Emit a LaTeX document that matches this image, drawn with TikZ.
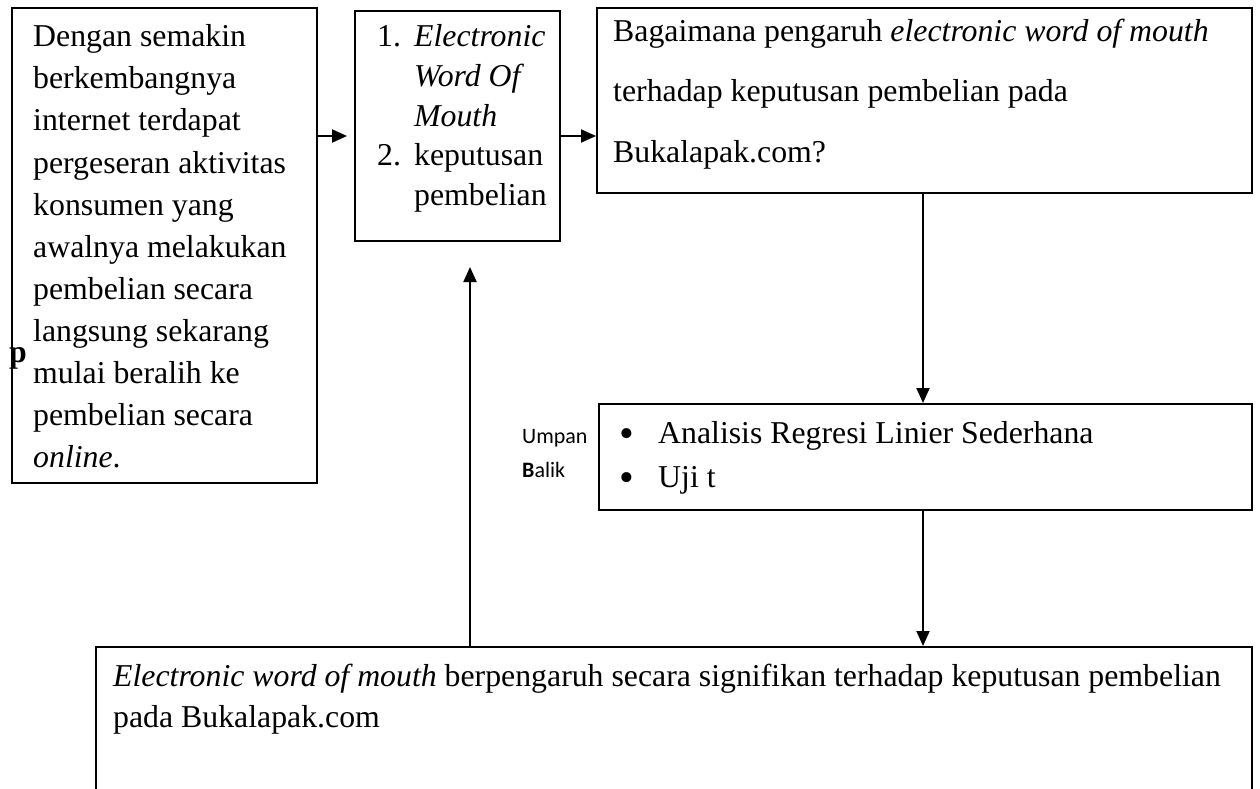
\documentclass[tikz,border=0pt]{standalone}
\usepackage{fontspec}
\setmainfont{Liberation Serif}
\newfontfamily\calib{Carlito}
\usetikzlibrary{arrows.meta}
\tikzset{
  box/.style={draw, line width=2pt, inner sep=0pt, anchor=north west},
  txt/.style={inner sep=0pt, anchor=base west, font=\fontsize{31.8}{38}\selectfont},
  bul/.style={inner sep=0pt, anchor=base west, font=\fontsize{42}{42}\selectfont},
  lbl/.style={inner sep=0pt, anchor=base west, font=\calib\fontsize{22}{26}\selectfont},
  arr/.style={line width=2pt, -{Triangle[length=15pt,width=13pt]}}
}
\begin{document}
\begin{tikzpicture}[x=1pt,y=-1pt]
\useasboundingbox (0,0) rectangle (1260,789);
\clip (0,0) rectangle (1260,789);
% boxes
\node[box, minimum width=305pt, minimum height=475pt] (b1) at (11,7) {};
\node[box, minimum width=205pt, minimum height=230pt] (b2) at (354,10) {};
\node[box, minimum width=655pt, minimum height=185pt] (b3) at (596,7) {};
\node[box, minimum width=653pt, minimum height=106pt] (b4) at (598,403) {};
\node[box, minimum width=1156pt, minimum height=220pt] (b5) at (95,646) {};
% box 1 text
\foreach \t [count=\i] in {Dengan semakin, berkembangnya, internet terdapat, pergeseran aktivitas, konsumen yang, awalnya melakukan, pembelian secara, langsung sekarang, mulai beralih ke, pembelian secara, \textit{online}.}
  \node[txt] (t1-\i) at (33,{47+42*(\i-1)}) {\t};
\node[txt, font=\bfseries\fontsize{31.8}{38}\selectfont] (pp) at (9,362) {p};
% box 2 text
\node[txt] (n1) at (377,47) {1.};
\node[txt] (t2-1) at (414,47) {\textit{Electronic}};
\node[txt] (t2-2) at (414,86.5) {\textit{Word Of}};
\node[txt] (t2-3) at (414,126) {\textit{Mouth}};
\node[txt] (n2) at (377,165.5) {2.};
\node[txt] (t2-4) at (414,165.5) {keputusan};
\node[txt] (t2-5) at (414,205) {pembelian};
% box 3 text
\node[txt] (t3-1) at (613,42) {Bagaimana pengaruh \textit{electronic word of mouth}};
\node[txt] (t3-2) at (613,102) {terhadap keputusan pembelian pada};
\node[txt] (t3-3) at (613,162) {Bukalapak.com?};
% box 4 text
\node[bul] (bu1) at (619,447) {•};
\node[txt] (t4-1) at (658,443) {Analisis Regresi Linier Sederhana};
\node[bul] (bu2) at (619,491) {•};
\node[txt] (t4-2) at (658,487) {Uji t};
% box 5 text
\node[txt] (t5-1) at (113,686) {\textit{Electronic word of mouth} berpengaruh secara signifikan terhadap keputusan pembelian};
\node[txt] (t5-2) at (113,727) {pada Bukalapak.com};
% feedback label
\node[lbl] (u1) at (522,443) {Umpan};
\node[lbl] (u2) at (522,477) {\textbf{B}alik};
% connectors
\coordinate (ax) at (923,0);
\coordinate (fx) at (470,0);
\draw[arr, shorten >=7pt] ([yshift=-129pt]b1.north east) -- ([yshift=-126pt]b2.north west);
\draw[arr] ([yshift=-126pt]b2.north east) -- ([yshift=-129pt]b3.north west);
\draw[arr] (b3.south -| ax) -- (b4.north -| ax);
\draw[arr] (b4.south -| ax) -- (b5.north -| ax);
\draw[arr, shorten >=25pt] (b5.north -| fx) -- (b2.south -| fx);
\end{tikzpicture}
\end{document}
